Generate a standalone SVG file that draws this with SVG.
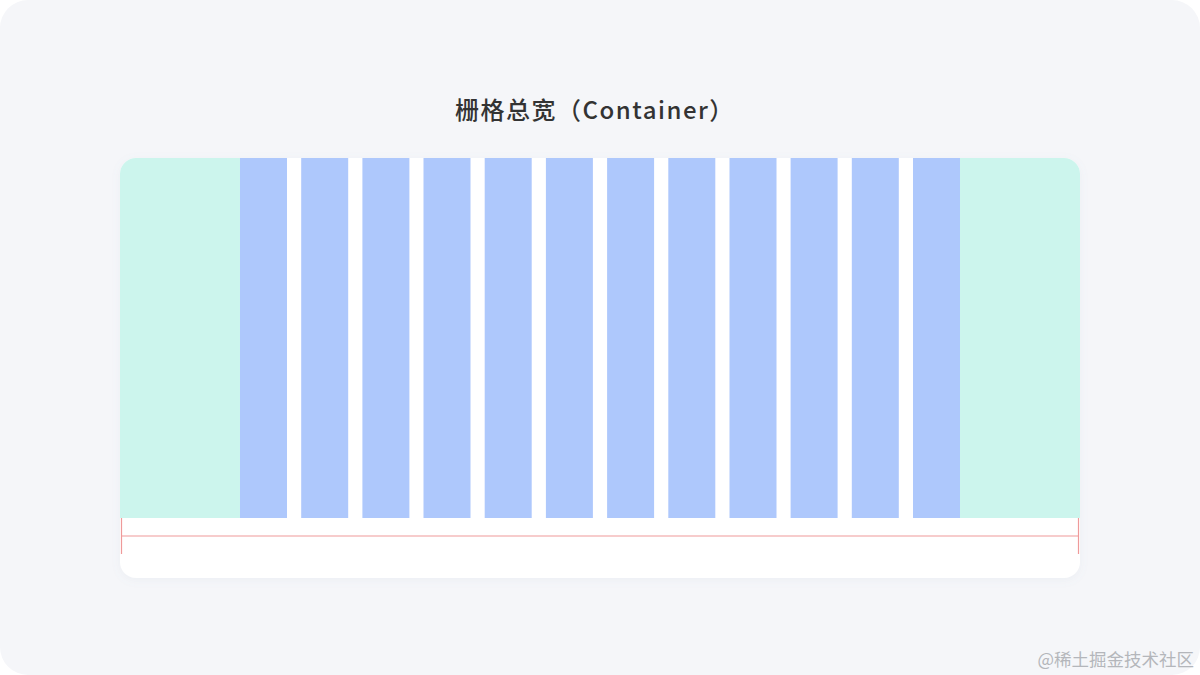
<svg xmlns="http://www.w3.org/2000/svg" width="1200" height="675" viewBox="0 0 1200 675">
<defs>
<style>
.col{fill:#aec8fc}
.margin{fill:#ccf5ed}
.red{stroke:#ef9a9a;stroke-width:1.2;fill:none}
</style>
<filter id="sh" x="-5%" y="-5%" width="110%" height="115%">
<feDropShadow dx="0" dy="2" stdDeviation="4" flood-color="#8090b0" flood-opacity="0.08"/>
</filter>
<clipPath id="cardclip"><rect x="120" y="158" width="960" height="420" rx="16"/></clipPath>
</defs>
<rect x="0" y="0" width="1200" height="675" fill="#ffffff"/>
<rect x="0" y="0" width="1200" height="675" rx="28" fill="#f5f6f9"/>
<g id="title">
<text x="595" y="119" text-anchor="middle" font-family="'Noto Sans CJK SC','Noto Sans',sans-serif" font-size="24" font-weight="500" letter-spacing="1.5" fill="#333333">栅格总宽（Container）</text>
</g>
<g id="container">
<rect x="120" y="158" width="960" height="420" rx="16" fill="#ffffff" filter="url(#sh)"/>
<g clip-path="url(#cardclip)">
<rect class="margin" x="120" y="158" width="120" height="360"/>
<rect class="margin" x="960" y="158" width="120" height="360"/>
</g>
</g>
<g id="columns">
<rect class="col" x="240" y="158" width="47" height="360"/>
<rect class="col" x="301.2" y="158" width="47" height="360"/>
<rect class="col" x="362.4" y="158" width="47" height="360"/>
<rect class="col" x="423.5" y="158" width="47" height="360"/>
<rect class="col" x="484.7" y="158" width="47" height="360"/>
<rect class="col" x="545.9" y="158" width="47" height="360"/>
<rect class="col" x="607.1" y="158" width="47" height="360"/>
<rect class="col" x="668.3" y="158" width="47" height="360"/>
<rect class="col" x="729.5" y="158" width="47" height="360"/>
<rect class="col" x="790.6" y="158" width="47" height="360"/>
<rect class="col" x="851.8" y="158" width="47" height="360"/>
<rect class="col" x="913" y="158" width="47" height="360"/>
</g>
<g id="connectors">
<line class="red" x1="121" y1="536" x2="1079" y2="536"/>
<line class="red" x1="121.5" y1="518" x2="121.5" y2="554"/>
<line class="red" x1="1078.5" y1="518" x2="1078.5" y2="554"/>
</g>
<g id="watermark">
<text x="1194" y="666" text-anchor="end" font-family="'Noto Sans CJK SC',sans-serif" font-size="17.5" fill="#b4b6bb">@稀土掘金技术社区</text>
</g>
</svg>
